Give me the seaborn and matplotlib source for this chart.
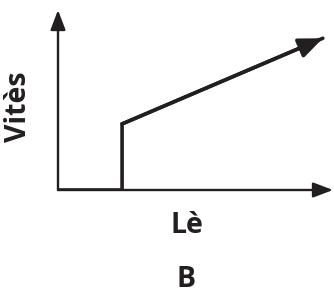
import matplotlib
matplotlib.use("Agg")
import matplotlib.pyplot as plt
import seaborn as sns
import pandas as pd

# schematic values (arbitrary units): speed vs length
length = [0.0, 2.33, 2.33, 9.63]
speed = [0.0, 0.0, 3.67, 8.43]
x_label = "Lè"
y_label = "Vitès"
panel = "B"

ink = "#231f20"

sns.set_theme(style="white")
plt.rcParams['font.family'] = ['Open Sans', 'DejaVu Sans']

df = pd.DataFrame({'length': length, 'speed': speed})

fig = plt.figure(figsize=(3.34, 2.95), dpi=100)
ax = fig.add_axes([58 / 334, 1 - 190 / 295, 275 / 334, 180 / 295])
ax.set_xlim(0, 10)
ax.set_ylim(0, 10)

sns.lineplot(data=df, x='length', y='speed', sort=False, estimator=None,
             color=ink, linewidth=2.6, ax=ax, solid_joinstyle='miter')

# arrow head on the last segment
ax.annotate('', xy=(length[-1], speed[-1]), xytext=(length[-2], speed[-2]),
            arrowprops=dict(arrowstyle='-|>,head_length=1.2,head_width=0.5',
                            color=ink, lw=2.6, shrinkA=0, shrinkB=0))

# axes drawn as arrows
for s in ax.spines.values():
    s.set_visible(False)
ax.annotate('', xy=(1.0, 0), xytext=(0, 0), xycoords='axes fraction',
            arrowprops=dict(arrowstyle='-|>,head_length=1.0,head_width=0.38',
                            color=ink, lw=1.7, shrinkA=0, shrinkB=0))
ax.annotate('', xy=(0, 1.0), xytext=(0, 0), xycoords='axes fraction',
            arrowprops=dict(arrowstyle='-|>,head_length=1.0,head_width=0.38',
                            color=ink, lw=1.7, shrinkA=0, shrinkB=0))

ax.set_xticks([])
ax.set_yticks([])
ax.set_xlabel('')
ax.set_ylabel('')

fig.text(187 / 334, 1 - 233 / 295, x_label, ha='center', va='baseline',
         fontsize=20.5, fontweight='bold', color=ink)
fig.text(19 / 334, 1 - 107 / 295, y_label, ha='center', va='center',
         rotation=90, fontsize=20.5, fontweight='bold', color=ink)
fig.text(186 / 334, 1 - 287 / 295, panel, ha='center', va='baseline',
         fontsize=20.5, fontweight='bold', color=ink)

fig.savefig('out.png', dpi=100)
